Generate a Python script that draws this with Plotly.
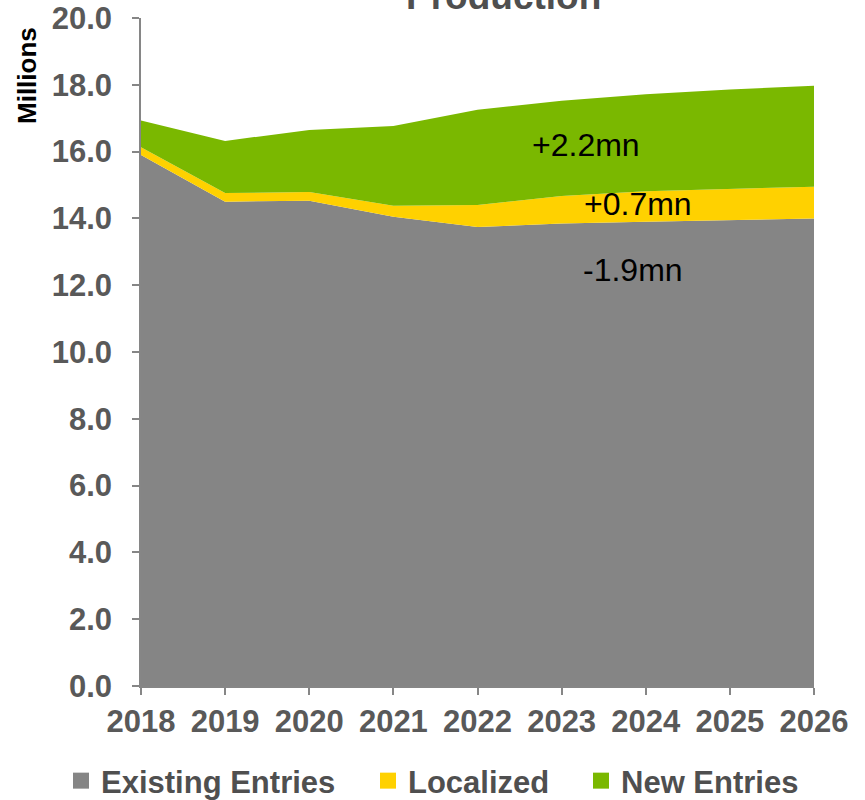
import plotly.graph_objects as go

# Production outlook, millions of units, stacked by source
years = [2018, 2019, 2020, 2021, 2022, 2023, 2024, 2025, 2026]
existing_entries = [15.90, 14.50, 14.53, 14.05, 13.74, 13.85, 13.90, 13.95, 14.00]
localized = [0.23, 0.26, 0.26, 0.33, 0.66, 0.82, 0.91, 0.93, 0.95]
new_entries = [0.80, 1.56, 1.86, 2.39, 2.85, 2.85, 2.91, 2.98, 3.02]

series_names = ["Existing Entries", "Localized", "New Entries"]
series_values = [existing_entries, localized, new_entries]
series_colors = ["#858585", "#FFD100", "#7AB800"]

y_ticks = [0, 2, 4, 6, 8, 10, 12, 14, 16, 18, 20]

FONT = "Arial, 'Liberation Sans', sans-serif"
AXIS_GREY = "#868686"
TEXT_GREY = "#595959"
DARK_GREY = "#4F4F4F"

# plot area in pixels
L, R, T, B = 141, 51, 18, 114
W, H = 865, 800
PW, PH = W - L - R, H - T - B


def px_x(p):
    return (p - L) / PW


def px_y(p):
    return (H - B - p) / PH


fig = go.Figure()

# stacked areas
for name, vals, col in zip(series_names, series_values, series_colors):
    fig.add_trace(go.Scatter(
        x=years, y=vals, name=name, mode="lines",
        stackgroup="one", line=dict(width=0, color=col),
        fillcolor=col, showlegend=False, hoverinfo="skip",
    ))

# one legend per entry so each swatch sits where it should
legend_ids = ["legend", "legend2", "legend3"]
legend_left = [61, 368, 581]
legend_font = dict(family=FONT, size=31, color=DARK_GREY, weight="bold")
for name, col, lid in zip(series_names, series_colors, legend_ids):
    fig.add_trace(go.Scatter(
        x=[None], y=[None], name=name, mode="markers",
        marker=dict(symbol="square", size=16, color=col),
        showlegend=True, legend=lid,
    ))
legend_layout = {}
for lid, lx in zip(legend_ids, legend_left):
    legend_layout[lid] = dict(
        orientation="h", x=px_x(lx), y=px_y(781),
        xanchor="left", yanchor="middle", font=legend_font,
        bgcolor="rgba(0,0,0,0)",
    )


# change labels 2018 -> 2026 for each component
def change_label(vals):
    return f"{vals[-1] - vals[0]:+.1f}mn"


label_specs = [
    (new_entries, 2023.29, 16.2),
    (localized, 2023.91, 14.43),
    (existing_entries, 2023.85, 12.46),
]
for vals, lx, ly in label_specs:
    fig.add_annotation(
        x=lx, y=ly, xref="x", yref="y", text=change_label(vals),
        showarrow=False, font=dict(family=FONT, size=32, color="#000000"),
    )

# chart title (runs off the top edge)
fig.add_annotation(
    x=px_x(503), y=px_y(-3), xref="paper", yref="paper", text="Production",
    showarrow=False, xanchor="center", yanchor="middle",
    font=dict(family=FONT, size=37, color=DARK_GREY, weight="bold"),
)

# y axis unit label
fig.add_annotation(
    x=px_x(27), y=px_y(76), xref="paper", yref="paper", text="Millions",
    showarrow=False, textangle=-90, xanchor="center", yanchor="middle",
    font=dict(family=FONT, size=26, color="#000000", weight="bold"),
)

fig.update_layout(
    width=W, height=H,
    margin=dict(l=L, r=R, t=T, b=B, autoexpand=False),
    paper_bgcolor="white", plot_bgcolor="white",
    showlegend=True,
    hovermode=False,
    **legend_layout,
)

fig.update_xaxes(
    range=[2018, 2026], tickvals=years, ticktext=[str(y) for y in years],
    showline=True, linecolor=AXIS_GREY, linewidth=1.5,
    ticks="outside", ticklen=7, tickcolor=AXIS_GREY, tickwidth=1.5,
    showgrid=False, zeroline=False, ticklabelstandoff=0, automargin=False,
    tickfont=dict(family=FONT, size=31, color=TEXT_GREY, weight="bold"),
)
fig.update_yaxes(
    range=[0, 20], tickvals=y_ticks, ticktext=[f"{v:.1f}" for v in y_ticks],
    showline=True, linecolor=AXIS_GREY, linewidth=1.5,
    ticks="outside", ticklen=7, tickcolor=AXIS_GREY, tickwidth=1.5,
    showgrid=False, zeroline=False, ticklabelstandoff=14, automargin=False,
    tickfont=dict(family=FONT, size=31, color=TEXT_GREY, weight="bold"),
)

fig.write_html("out.html")
